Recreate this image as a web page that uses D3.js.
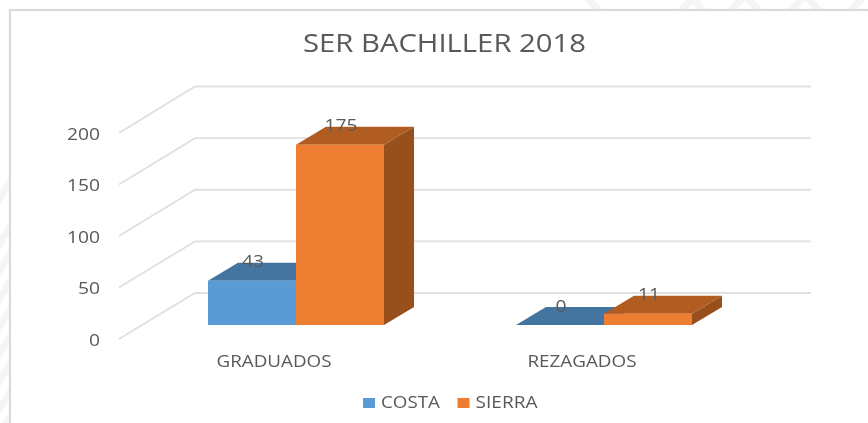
<!DOCTYPE html>
<html>
<head>
<meta charset="utf-8">
<script src="https://cdn.jsdelivr.net/npm/d3@7"></script>
<style>
  html, body { margin: 0; padding: 0; background: #fff; }
  svg { display: block; filter: blur(0.45px); }
  text { font-family: "Open Sans", sans-serif; fill: #595959; }
</style>
</head>
<body>
<div class="chart"></div>
<script>
const categories = ['GRADUADOS', 'REZAGADOS']
const seriesNames = ['COSTA', 'SIERRA']
const costa = [43, 0]
const sierra = [175, 11]
const yTicks = [0, 50, 100, 150, 200]

const frontColor = ['#5b9bd5', '#ed7d31']
const topColor = ['#4475a0', '#b15c20']
const sideColor = ['#3a6690', '#974f1b']

const width = 868, height = 423
const svg = d3.select('.chart').append('svg').attr('width', width).attr('height', height)

// faint watermark showing around the chart frame
const wm = svg.append('g').attr('fill', 'none').attr('stroke', '#f5f5f5').attr('stroke-width', 7)
;[190, 235, 262, 290, 318, 345, 372, 400, 425].forEach(y => {
  wm.append('line').attr('x1', -4).attr('y1', y + 14).attr('x2', 14).attr('y2', y - 14)
})
;[600, 680, 705, 730, 760, 790, 820, 850].forEach((x, i) => {
  wm.append('line').attr('x1', x).attr('y1', 12).attr('x2', x + (i % 2 ? 14 : -14)).attr('y2', -4)
})

// chart frame
svg.append('rect').attr('x', 10).attr('y', 10).attr('width', width).attr('height', height)
  .attr('fill', '#fff').attr('stroke', '#dadada').attr('stroke-width', 2.2)

// 3 planes: front of the floor, bars, back wall
const yFront = d3.scaleLinear().domain([0, 200]).range([339, 133])
const yBar = d3.scaleLinear().domain([0, 200]).range([325, 119])
const yBack = d3.scaleLinear().domain([0, 200]).range([293, 86.5])
const wallLeft = 119, wallDepth = 76, wallRight = 811
const barDx = 30, barDy = -18

const gridLine = d3.line()
const grid = svg.append('g')
grid.selectAll('path').data(yTicks).join('path')
  .attr('d', d => gridLine([[wallLeft, yFront(d)], [wallLeft + wallDepth, yBack(d)], [wallRight, yBack(d)]]))
  .attr('fill', 'none').attr('stroke', '#e0e0e0').attr('stroke-width', 1.8)

// y axis
const yAxis = d3.axisLeft(yFront).tickValues(yTicks).tickSize(0).tickPadding(19)
const yAxisGroup = svg.append('g').attr('transform', `translate(${wallLeft},0)`).call(yAxis)
yAxisGroup.select('.domain').remove()
yAxisGroup.selectAll('text')
  .style('font-family', '"Open Sans", sans-serif')
  .style('font-size', '16px')
  .style('fill', '#595959')
  .attr('dy', '0.4em')
  .attr('textLength', d => String(d).length * 11)
  .attr('lengthAdjust', 'spacingAndGlyphs')

// bars
const xScale = d3.scaleBand().domain(categories).range([142, 758])
const xSub = d3.scaleBand().domain(seriesNames).range([66, 242])
const rows = categories.map((c, i) => seriesNames.map((s, j) => ({
  cat: c, idx: j, value: (j === 0 ? costa : sierra)[i]
})))

const poly = d3.line().curve(d3.curveLinearClosed)
rows.forEach(row => {
  const g = svg.append('g').attr('transform', `translate(${xScale(row[0].cat)},0)`)
  row.forEach(d => {
    const x0 = xSub(seriesNames[d.idx]), x1 = x0 + xSub.bandwidth()
    const y0 = yBar(0), y1 = yBar(d.value)
    // side
    g.append('path')
      .attr('d', poly([[x1, y1], [x1 + barDx, y1 + barDy], [x1 + barDx, y0 + barDy], [x1, y0]]))
      .attr('fill', sideColor[d.idx])
    // top
    g.append('path')
      .attr('d', poly([[x0, y1], [x0 + barDx, y1 + barDy], [x1 + barDx, y1 + barDy], [x1, y1]]))
      .attr('fill', topColor[d.idx])
    // front
    g.append('rect').attr('x', x0).attr('y', y1).attr('width', x1 - x0).attr('height', y0 - y1)
      .attr('fill', frontColor[d.idx])
  })
})

// value labels go on top of every bar
rows.flat().forEach(d => {
  svg.append('text')
    .attr('x', xScale(d.cat) + xSub(seriesNames[d.idx]) + xSub.bandwidth() / 2 + 1)
    .attr('y', yBar(d.value) - 13.5)
    .attr('text-anchor', 'middle')
    .attr('font-size', 17)
    .attr('textLength', String(d.value).length * 11)
    .attr('lengthAdjust', 'spacingAndGlyphs')
    .text(d.value)
})

// category labels
const catWidth = [115, 109]
svg.append('g').selectAll('text').data(categories).join('text')
  .attr('x', d => xScale(d) + xScale.bandwidth() / 2 - 22)
  .attr('y', 367)
  .attr('text-anchor', 'middle')
  .attr('font-size', 16)
  .attr('textLength', (d, i) => catWidth[i])
  .attr('lengthAdjust', 'spacingAndGlyphs')
  .text(d => d)

// title
svg.append('text')
  .attr('x', 444.5).attr('y', 52)
  .attr('text-anchor', 'middle')
  .attr('font-size', 25)
  .attr('textLength', 283)
  .attr('lengthAdjust', 'spacingAndGlyphs')
  .text('SER BACHILLER 2018')

// legend
const legendX = [363, 457.5]
const legendW = [59, 62]
const legend = svg.append('g').selectAll('g').data(seriesNames).join('g')
  .attr('transform', (d, i) => `translate(${legendX[i]},398)`)
legend.append('rect').attr('width', 12).attr('height', 10).attr('fill', (d, i) => frontColor[i])
legend.append('text')
  .attr('x', 18).attr('y', 10)
  .attr('font-size', 16)
  .attr('textLength', (d, i) => legendW[i])
  .attr('lengthAdjust', 'spacingAndGlyphs')
  .text(d => d)
</script>
</body>
</html>
